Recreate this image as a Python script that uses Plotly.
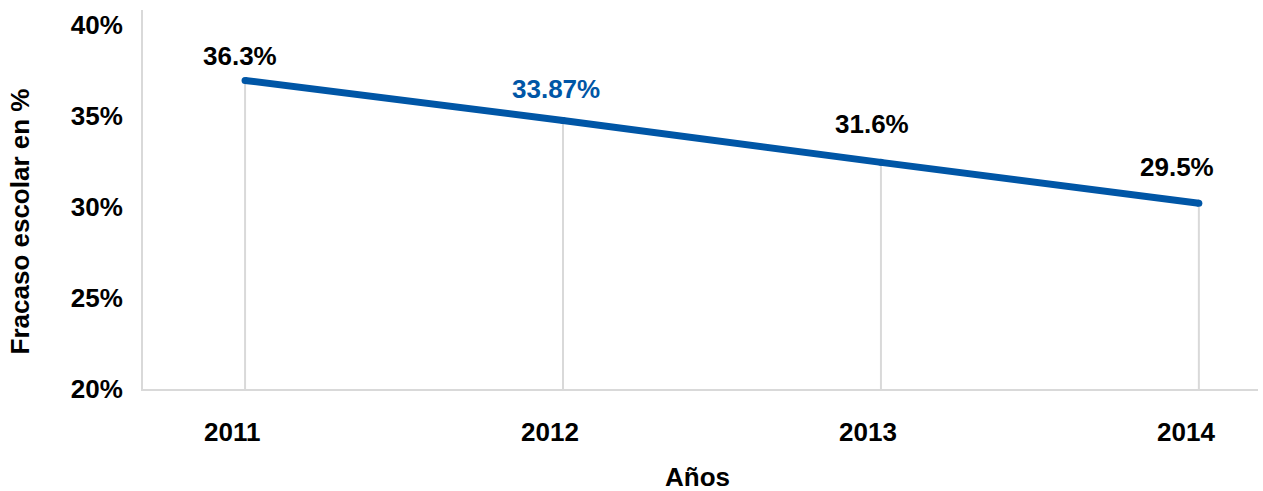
import plotly.graph_objects as go

years = ["2011", "2012", "2013", "2014"]
values = [36.95, 34.75, 32.45, 30.2]
labels = ["36.3%", "33.87%", "31.6%", "29.5%"]
y_ticks = [20, 25, 30, 35, 40]
y_ticktext = ["20%", "25%", "30%", "35%", "40%"]

label_colors = ["#000000", "#0056A6", "#000000", "#000000"]
label_dx = [-5, -7, -9, -22]
label_dy = [24, 32, 38, 36]

FONT = "Liberation Sans, Arial, sans-serif"
BLUE = "#0056A6"
GRAY = "#D9D9D9"
FS = 26

xs = list(range(len(years)))
fig = go.Figure()

# drop lines
for xi, v in zip(xs, values):
    fig.add_trace(go.Scatter(x=[xi, xi], y=[y_ticks[0], v], mode="lines",
                             line=dict(color=GRAY, width=2), hoverinfo="skip",
                             showlegend=False))

fig.add_trace(go.Scatter(x=xs, y=values, mode="lines+markers",
                         line=dict(color=BLUE, width=7),
                         marker=dict(color=BLUE, size=7),
                         showlegend=False))

for xi, v, t, c, dx, dy in zip(xs, values, labels, label_colors, label_dx, label_dy):
    fig.add_annotation(x=xi, y=v, text=f"<b>{t}</b>", showarrow=False,
                       xshift=dx, yshift=dy,
                       font=dict(family=FONT, size=FS, color=c))

# category labels (slightly left of the category positions, as in the original)
for xi, yr in zip(xs, years):
    fig.add_annotation(x=xi, y=0, xref="x", yref="paper", text=f"<b>{yr}</b>",
                       showarrow=False, xanchor="center", yanchor="middle",
                       xshift=-13, yshift=-43,
                       font=dict(family=FONT, size=FS, color="#000000"))

fig.add_annotation(text="<b>Fracaso escolar en %</b>", xref="paper", yref="paper",
                   x=-0.11, y=0.443, textangle=-90, showarrow=False,
                   xanchor="center", yanchor="middle",
                   font=dict(family=FONT, size=FS, color="#000000"))
fig.add_annotation(text="<b>Años</b>", xref="paper", yref="paper",
                   x=0.497, y=-0.231, showarrow=False, borderpad=0,
                   xanchor="center", yanchor="middle",
                   font=dict(family=FONT, size=FS, color="#000000"))

fig.update_layout(
    width=1263, height=491,
    margin=dict(l=143, r=5, t=10, b=102),
    plot_bgcolor="white", paper_bgcolor="white",
    font=dict(family=FONT, size=FS, color="#000000"),
    xaxis=dict(range=[-0.321, 3.186], tickmode="array", tickvals=xs,
               showticklabels=False,
               showgrid=False, zeroline=False, showline=True,
               linecolor=GRAY, linewidth=2, ticks=""),
    yaxis=dict(range=[20, 40.82], tickmode="array", tickvals=y_ticks,
               ticktext=[f"<b>{t}</b>" for t in y_ticktext],
               showgrid=False, zeroline=False, showline=True,
               linecolor=GRAY, linewidth=2, ticks="", ticklabelstandoff=13,
               tickfont=dict(family=FONT, size=FS, color="#000000")),
)

fig.write_html("out.html", config={"displayModeBar": False},
               post_script="document.body.style.margin='0px';document.body.style.overflow='hidden';")
